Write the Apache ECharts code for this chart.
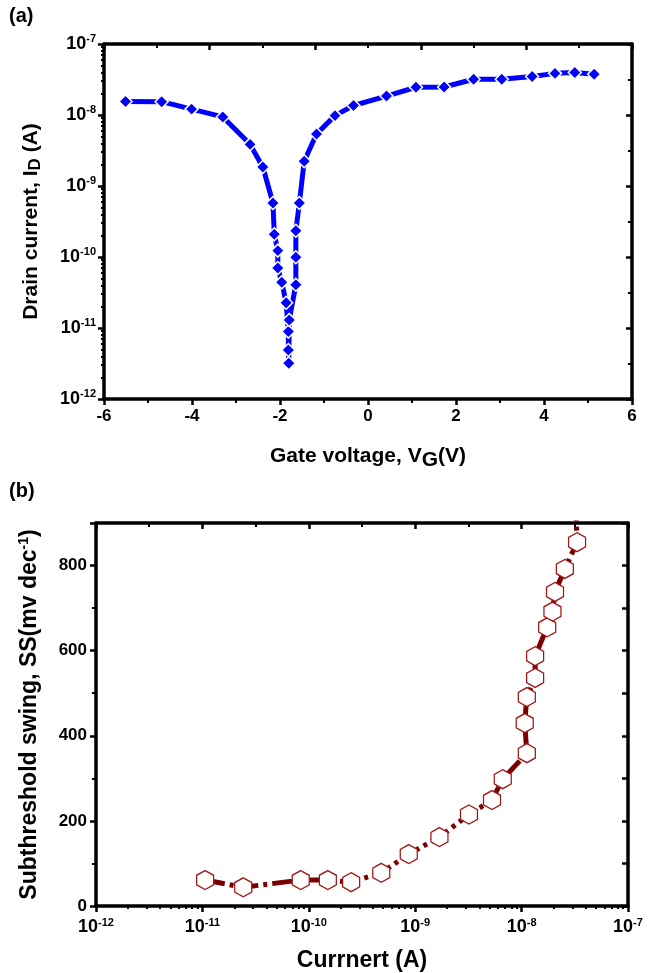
<!DOCTYPE html>
<html>
<head>
<meta charset="utf-8">
<script src="https://cdn.jsdelivr.net/npm/echarts@6/dist/echarts.min.js"></script>
<style>html,body{margin:0;padding:0;background:#fff;}#c{width:661px;height:973px;}</style>
</head>
<body>
<div id="c"></div>
<script>
// ---- Panel (a): transfer curve ----
const gateVoltage = [-5.51,-4.69,-4.01,-3.30,-2.68,-2.39,-2.16,-2.13,-2.05,-2.05,-1.96,-1.86,-1.81,-1.81,-1.80,-1.79,-1.64,-1.64,-1.64,-1.56,-1.45,-1.17,-0.75,-0.33,0.42,1.09,1.73,2.40,3.04,3.73,4.25,4.70,5.14];
const drainCurrent = [1.55e-8,1.54e-8,1.21e-8,9.4e-9,3.86e-9,1.85e-9,5.77e-10,2.09e-10,1.23e-10,7.0e-11,4.4e-11,2.27e-11,8.9e-12,4.9e-12,3.18e-12,1.30e-11,4.07e-11,9.9e-11,2.34e-10,5.77e-10,2.23e-9,5.4e-9,9.8e-9,1.36e-8,1.85e-8,2.46e-8,2.48e-8,3.19e-8,3.18e-8,3.49e-8,3.86e-8,3.97e-8,3.76e-8];
const vgTicks = [-6,-4,-2,0,2,4,6];
const idDecades = [1e-12,1e-11,1e-10,1e-9,1e-8,1e-7];

// ---- Panel (b): subthreshold swing ----
const currentB = [1.06e-11,2.42e-11,8.4e-11,1.51e-10,2.50e-10,4.8e-10,8.7e-10,1.69e-9,3.2e-9,5.27e-9,6.65e-9,1.12e-8,1.07e-8,1.12e-8,1.34e-8,1.34e-8,1.74e-8,1.95e-8,2.06e-8,2.55e-8,3.32e-8,3.2e-8];
const swing = [61,44,61,61,56,78,122,162,215,249,298,359,430,491,536,587,655,692,738,792,855,960];
const ssTicks = [0,200,400,600,800];
const currDecades = [1e-12,1e-11,1e-10,1e-9,1e-8,1e-7];

const FF = "'Liberation Sans', Arial, sans-serif";
const BLACK = '#000';
const AXW = 3.5;

function minorLog(lo, hi){ const out=[]; for(let e=lo;e<hi;e++){ for(let k=2;k<=9;k++) out.push(k*Math.pow(10,e)); } return out; }
function expLabel(v){ const e=Math.round(Math.log10(v)); return '{b|10}{s|'+e+'}'; }
const supRich = {
  b:{fontSize:18,fontWeight:'bold',fontFamily:FF,color:BLACK},
  s:{fontSize:11,fontWeight:'bold',fontFamily:FF,color:BLACK,verticalAlign:'top',padding:[0,0,10,0]}
};
function makeNameRich(fs){
  return {
    n:{fontSize:fs,fontWeight:'bold',fontFamily:FF,color:BLACK},
    sub:{fontSize:fs,fontWeight:'bold',fontFamily:FF,color:BLACK,padding:[9,0,0,0]},
    subs:{fontSize:fs-4,fontWeight:'bold',fontFamily:FF,color:BLACK,padding:[8,0,0,0]},
    sup:{fontSize:Math.round(fs*0.6),fontWeight:'bold',fontFamily:FF,color:BLACK,padding:[0,0,12,0]}
  };
}
const lineAx = {show:true,onZero:false,lineStyle:{color:BLACK,width:AXW}};
const noLine = {show:false,onZero:false};
const hexPath = 'path://M50,0 L93.3,25 L93.3,75 L50,100 L6.7,75 L6.7,25 Z';
const numLabel = {fontSize:17,fontWeight:'bold',fontFamily:FF,color:BLACK};

const option = {
  backgroundColor:'#fff',
  animation:false,
  graphic:[
    {type:'text',left:9,top:6,style:{text:'(a)',font:"bold 20px "+FF,fill:BLACK}},
    {type:'text',left:9,top:481,style:{text:'(b)',font:"bold 20px "+FF,fill:BLACK}}
  ],
  grid:[
    {left:104,right:29,top:44,bottom:574,containLabel:false},
    {left:96,right:33,top:523,bottom:67,containLabel:false}
  ],
  xAxis:[
    {type:'value',gridIndex:0,min:-6,max:6,interval:2,position:'bottom',
     axisLine:lineAx,axisTick:{show:true,inside:false,length:6,lineStyle:{color:BLACK,width:2.5}},
     minorTick:{show:true,splitNumber:2,length:4,lineStyle:{color:BLACK,width:2}},
     splitLine:{show:false},
     axisLabel:Object.assign({margin:9},numLabel),
     name:'{n|Gate voltage, V}{sub|G}{n|(V)}',nameLocation:'middle',nameGap:42,
     nameTextStyle:{rich:makeNameRich(21)}},
    {type:'value',gridIndex:0,min:0,max:10,interval:2,position:'top',
     axisLine:lineAx,axisTick:{show:true,inside:true,length:6,lineStyle:{color:BLACK,width:2.5}},
     minorTick:{show:true,splitNumber:2,length:4,lineStyle:{color:BLACK,width:2}},
     splitLine:{show:false},axisLabel:{show:false}},
    {type:'log',logBase:10,gridIndex:1,min:1e-12,max:1e-7,position:'bottom',
     axisLine:lineAx,axisTick:{show:true,inside:false,length:6,lineStyle:{color:BLACK,width:2.5}},
     splitLine:{show:false},
     axisLabel:{margin:11,formatter:expLabel,rich:supRich},
     name:'Currnert (A)',nameLocation:'middle',nameGap:43,
     nameTextStyle:{fontSize:23,fontWeight:'bold',fontFamily:FF,color:BLACK}},
    {type:'log',logBase:10,gridIndex:1,min:1e-12,max:1e-7,position:'bottom',
     axisLine:noLine,axisTick:{show:true,inside:false,length:3,customValues:minorLog(-12,-7),lineStyle:{color:BLACK,width:2}},
     splitLine:{show:false},axisLabel:{show:false}},
    {type:'value',gridIndex:1,min:-12,max:-7,interval:1,position:'top',
     axisLine:lineAx,axisTick:{show:true,inside:true,length:6,lineStyle:{color:BLACK,width:2.5}},
     minorTick:{show:true,splitNumber:2,length:4,lineStyle:{color:BLACK,width:2}},
     splitLine:{show:false},axisLabel:{show:false}}
  ],
  yAxis:[
    {type:'log',logBase:10,gridIndex:0,min:1e-12,max:1e-7,position:'left',
     axisLine:lineAx,axisTick:{show:true,inside:false,length:6,lineStyle:{color:BLACK,width:2.5}},
     splitLine:{show:false},
     axisLabel:{margin:8,formatter:expLabel,rich:supRich},
     name:'{n|Drain current, I}{subs|D}{n| (A)}',nameLocation:'middle',nameGap:60,
     nameTextStyle:{rich:makeNameRich(21)}},
    {type:'log',logBase:10,gridIndex:0,min:1e-12,max:1e-7,position:'left',
     axisLine:noLine,axisTick:{show:true,inside:false,length:3,customValues:minorLog(-12,-7),lineStyle:{color:BLACK,width:2}},
     splitLine:{show:false},axisLabel:{show:false}},
    {type:'value',gridIndex:0,min:-12,max:-7,interval:1,position:'right',
     axisLine:lineAx,axisTick:{show:true,inside:true,length:6,lineStyle:{color:BLACK,width:2.5}},
     minorTick:{show:true,splitNumber:2,length:4,lineStyle:{color:BLACK,width:2}},
     splitLine:{show:false},axisLabel:{show:false}},
    {type:'value',gridIndex:1,min:0,max:900,interval:200,position:'left',
     axisLine:lineAx,axisTick:{show:true,inside:false,length:6,lineStyle:{color:BLACK,width:2.5}},
     minorTick:{show:true,splitNumber:2,length:4,lineStyle:{color:BLACK,width:2}},
     splitLine:{show:false},
     axisLabel:Object.assign({margin:9,showMaxLabel:false},numLabel),
     name:'{n|Subthreshold swing, SS(mv dec}{sup|-1}{n|)}',nameLocation:'middle',nameGap:53,
     nameTextStyle:{rich:makeNameRich(23)}},
    {type:'value',gridIndex:1,min:0,max:900,interval:100,position:'right',
     axisLine:lineAx,axisTick:{show:true,inside:true,length:6,lineStyle:{color:BLACK,width:2.5}},
     splitLine:{show:false},axisLabel:{show:false}}
  ],
  series:[
    {type:'line',xAxisIndex:0,yAxisIndex:0,
     data:gateVoltage.map((v,i)=>[v,drainCurrent[i]]),
     symbol:'diamond',symbolSize:[13,13],
     lineStyle:{color:'#0000ff',width:5},
     itemStyle:{color:'#0000ff',borderColor:'#fff',borderWidth:1.5},
     z:5},
    {type:'line',xAxisIndex:2,yAxisIndex:3,
     data:currentB.map((v,i)=>[v,swing[i]]),
     symbol:hexPath,symbolSize:[17,19],clip:true,
     lineStyle:{color:'#7a0000',width:5,type:[20,5,4,5]},
     itemStyle:{color:'#fff',borderColor:'#a01515',borderWidth:1.3},
     z:5}
  ]
};
const chart = echarts.init(document.getElementById('c'),null,{renderer:'canvas'});
chart.setOption(option);
</script>
</body>
</html>
